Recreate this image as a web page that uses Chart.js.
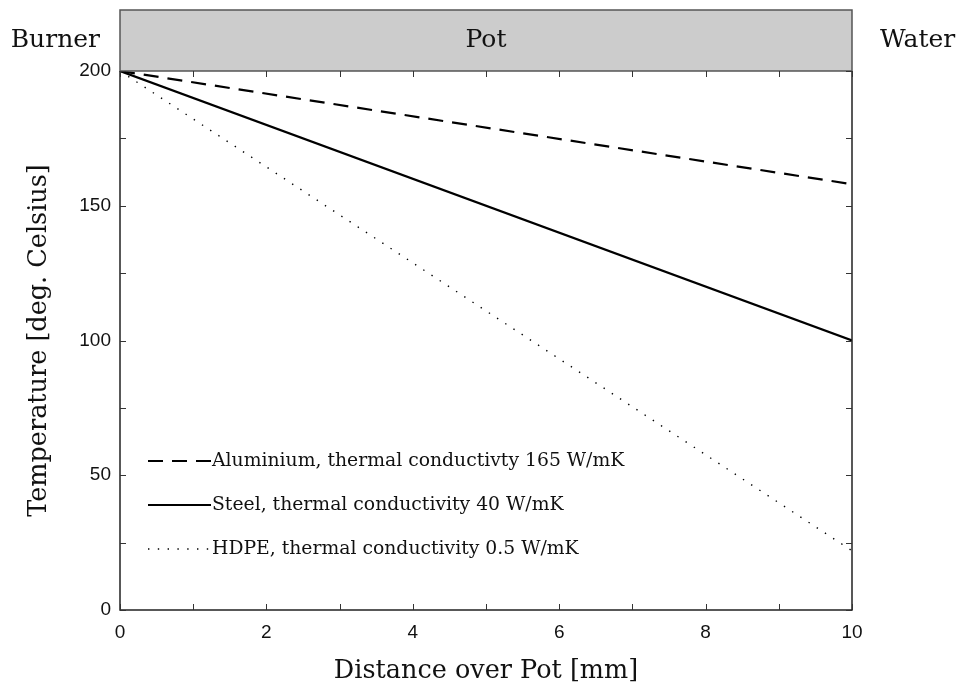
<!DOCTYPE html>
<html>
<head>
<meta charset="utf-8">
<script src="https://cdn.jsdelivr.net/npm/chart.js@4.4.0/dist/chart.umd.min.js"></script>
<style>
  body { margin: 0; background: #fff; }
  #chart { display: block; }
</style>
</head>
<body>
<canvas id="chart" width="960" height="687"></canvas>
<script>
// Datos del grafico
const distance = [0, 10];
const aluminium = [200, 158];
const steel = [200, 100];
const hdpe = [200, 22];
const seriesLabels = [
    'Aluminium, thermal conductivty 165 W/mK',
    'Steel, thermal conductivity 40 W/mK',
    'HDPE, thermal conductivity 0.5 W/mK'
];
const yLabelStep = 50;
const xLabelStep = 2;

const serif = '"DejaVu Serif", "Liberation Serif", serif';
const sans = '"Liberation Sans", Arial, sans-serif';

function toPoints(ys) {
    return distance.map((x, i) => ({ x: x, y: ys[i] }));
}

// Caja gris, marco y marcas hacia dentro
const frameBox = {
    id: 'frameBox',
    afterDraw(chart) {
        const ctx = chart.ctx;
        const a = chart.chartArea;
        const xs = chart.scales.x;
        const ys = chart.scales.y;
        ctx.save();
        // caja "Pot"
        ctx.fillStyle = '#cccccc';
        ctx.fillRect(a.left, 10, a.right - a.left, a.top - 10);
        ctx.strokeStyle = '#555';
        ctx.lineWidth = 1.5;
        ctx.strokeRect(a.left, 10, a.right - a.left, a.top - 10);
        ctx.fillStyle = '#111';
        ctx.font = '25px ' + serif;
        ctx.textBaseline = 'middle';
        ctx.textAlign = 'center';
        ctx.fillText('Pot', (a.left + a.right) / 2, 40);
        ctx.textAlign = 'right';
        ctx.fillText('Burner', a.left - 20, 40);
        ctx.textAlign = 'left';
        ctx.fillText('Water', a.right + 28, 40);

        // marco del area
        ctx.strokeStyle = '#222';
        ctx.lineWidth = 1.5;
        ctx.beginPath();
        ctx.moveTo(a.left, a.top);
        ctx.lineTo(a.left, a.bottom);
        ctx.lineTo(a.right, a.bottom);
        ctx.lineTo(a.right, a.top);
        ctx.stroke();

        // marcas
        ctx.lineWidth = 1;
        ctx.strokeStyle = '#333';
        ctx.beginPath();
        xs.ticks.forEach(t => {
            const px = Math.round(xs.getPixelForValue(t.value)) + 0.5;
            ctx.moveTo(px, a.bottom); ctx.lineTo(px, a.bottom - 6);
            ctx.moveTo(px, a.top); ctx.lineTo(px, a.top + 6);
        });
        ys.ticks.forEach(t => {
            const py = Math.round(ys.getPixelForValue(t.value)) + 0.5;
            ctx.moveTo(a.left, py); ctx.lineTo(a.left + 6, py);
            ctx.moveTo(a.right, py); ctx.lineTo(a.right - 6, py);
        });
        ctx.stroke();
        ctx.restore();
    }
};

// Leyenda dentro del area
const insideLegend = {
    id: 'insideLegend',
    afterDatasetsDraw(chart) {
        const ctx = chart.ctx;
        const a = chart.chartArea;
        ctx.save();
        ctx.font = '18.8px ' + serif;
        ctx.textBaseline = 'middle';
        ctx.textAlign = 'left';
        chart.data.datasets.forEach((ds, i) => {
            const y = a.top + 390 + i * 44;
            ctx.strokeStyle = ds.borderColor;
            ctx.lineWidth = ds.borderWidth;
            ctx.setLineDash(ds.borderDash || []);
            ctx.beginPath();
            ctx.moveTo(a.left + 28, y);
            ctx.lineTo(a.left + 91, y);
            ctx.stroke();
            ctx.setLineDash([]);
            ctx.fillStyle = '#111';
            ctx.fillText(ds.label, a.left + 92, y);
        });
        ctx.restore();
    }
};

new Chart(document.getElementById('chart'), {
    type: 'line',
    data: {
        datasets: [
            { label: seriesLabels[0], data: toPoints(aluminium), borderColor: '#000', borderWidth: 2.2, borderDash: [15, 9] },
            { label: seriesLabels[1], data: toPoints(steel), borderColor: '#000', borderWidth: 2.2 },
            { label: seriesLabels[2], data: toPoints(hdpe), borderColor: '#000', borderWidth: 1.4, borderDash: [1.4, 8.4] }
        ]
    },
    options: {
        responsive: false,
        devicePixelRatio: 1,
        animation: false,
        layout: { padding: { top: 71, right: 108, left: 0, bottom: 0 } },
        elements: { point: { radius: 0 }, line: { tension: 0 } },
        plugins: {
            legend: { display: false },
            tooltip: { enabled: false }
        },
        scales: {
            x: {
                type: 'linear',
                min: 0,
                max: 10,
                grid: { display: false, drawTicks: false },
                border: { display: false },
                ticks: {
                    stepSize: 1,
                    color: '#111',
                    font: { family: sans, size: 19 },
                    padding: 11,
                    maxRotation: 0,
                    autoSkip: false,
                    callback: v => (v % xLabelStep === 0 ? String(v) : '')
                },
                title: {
                    display: true,
                    text: 'Distance over Pot [mm]',
                    color: '#111',
                    font: { family: serif, size: 25.5 },
                    padding: { top: 5, bottom: 0 }
                },
                afterFit: s => { s.height = 77; }
            },
            y: {
                min: 0,
                max: 200,
                grid: { display: false, drawTicks: false },
                border: { display: false },
                ticks: {
                    stepSize: 25,
                    color: '#111',
                    font: { family: sans, size: 19 },
                    padding: 9,
                    autoSkip: false,
                    callback: v => (v % yLabelStep === 0 ? String(v) : '')
                },
                title: {
                    display: true,
                    text: 'Temperature [deg. Celsius]',
                    color: '#111',
                    font: { family: serif, size: 25.5 },
                    padding: { top: 24, bottom: 0 }
                },
                afterFit: s => { s.width = 120; }
            }
        }
    },
    plugins: [frameBox, insideLegend]
});
</script>
</body>
</html>
